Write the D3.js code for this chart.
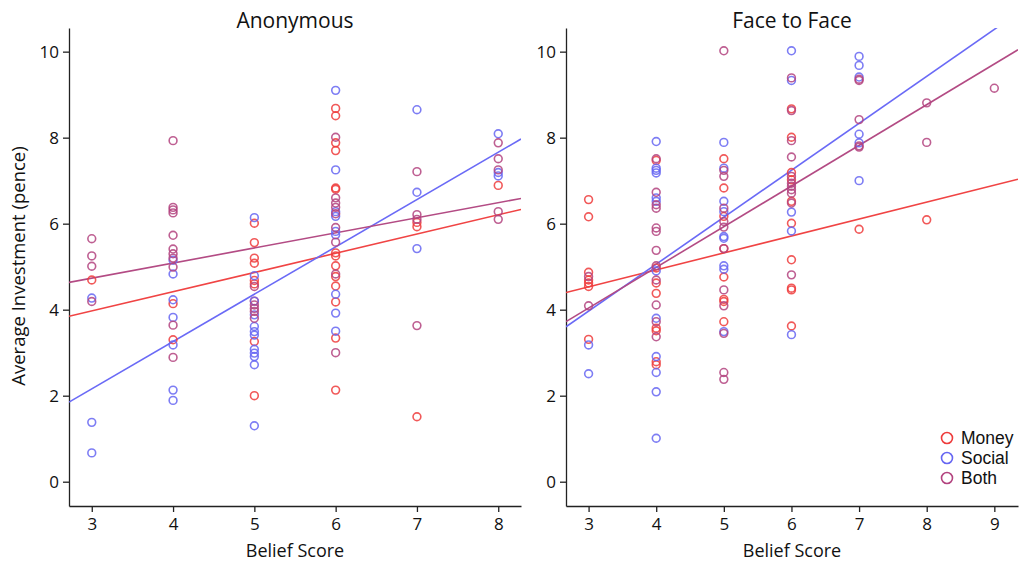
<!DOCTYPE html>
<html>
<head>
<meta charset="utf-8">
<script src="https://cdn.jsdelivr.net/npm/d3@7"></script>
<style>
  html, body { margin: 0; padding: 0; background: #fff; }
  svg text { font-family: "Open Sans", "Noto Sans", sans-serif; fill: #111; }
</style>
</head>
<body>
<svg id="chart" width="1025" height="565"></svg>
<script>
// Belief score vs. average investment, one panel per condition.
// Each series lists [belief score, average investment in pence].

const anonMoney = [
  [3,4.69],
  [4,4.14],[4,3.30],
  [5,6.01],[5,5.56],[5,5.20],[5,5.08],[5,4.68],[5,4.60],[5,4.20],[5,3.26],[5,2.00],
  [6,8.68],[6,8.51],[6,7.88],[6,7.70],[6,6.83],[6,6.80],[6,5.32],[6,5.25],[6,5.02],[6,4.77],[6,4.55],[6,4.18],[6,3.34],[6,2.13],
  [7,6.03],[7,5.93],[7,1.51],
  [8,6.89]
];
const anonSocial = [
  [3,4.27],[3,1.38],[3,0.67],
  [4,5.15],[4,4.83],[4,4.23],[4,3.82],[4,3.18],[4,2.13],[4,1.89],
  [5,6.14],[5,4.79],[5,4.20],[5,3.88],[5,3.61],[5,3.49],[5,3.41],[5,3.08],[5,2.99],[5,2.91],[5,2.72],[5,1.30],
  [6,9.10],[6,7.25],[6,6.28],[6,6.17],[6,5.82],[6,5.74],[6,4.36],[6,3.92],[6,3.50],
  [7,8.65],[7,6.73],[7,5.42],
  [8,8.09],[8,7.19],[8,7.11]
];
const anonBoth = [
  [3,5.65],[3,5.25],[3,5.01],[3,4.19],
  [4,7.93],[4,6.38],[4,6.32],[4,6.25],[4,5.73],[4,5.41],[4,5.30],[4,5.20],[4,4.99],[4,3.64],[4,2.89],
  [5,4.54],[5,4.11],[5,4.03],[5,3.96],[5,3.80],
  [6,8.01],[6,6.60],[6,6.48],[6,6.38],[6,6.23],[6,5.91],[6,5.57],[6,4.83],[6,3.00],
  [7,7.21],[7,6.21],[7,6.10],[7,3.63],
  [8,7.88],[8,7.51],[8,7.25],[8,6.28],[8,6.10]
];

const f2fMoney = [
  [3,6.56],[3,6.16],[3,4.87],[3,4.69],[3,4.62],[3,4.54],[3,3.31],
  [4,7.47],[4,4.97],[4,4.62],[4,4.38],[4,3.57],[4,3.51],[4,2.79],[4,2.72],
  [5,7.51],[5,6.83],[5,6.17],[5,5.42],[5,4.76],[5,4.24],[5,4.19],[5,3.72],
  [6,8.67],[6,8.01],[6,7.19],[6,7.02],[6,6.52],[6,6.01],[6,5.16],[6,4.50],[6,4.46],[6,3.62],
  [7,5.87],
  [8,6.09]
];
const f2fSocial = [
  [3,3.18],[3,2.51],
  [4,7.91],[4,7.29],[4,7.24],[4,7.18],[4,6.60],[4,6.52],[4,4.90],[4,3.80],[4,2.91],[4,2.54],[4,2.09],[4,1.01],
  [5,7.89],[5,7.29],[5,6.52],[5,6.28],[5,5.70],[5,5.66],[5,5.02],[5,4.94],[5,3.49],
  [6,10.02],[6,9.33],[6,6.27],[6,5.83],[6,3.42],
  [7,9.89],[7,9.68],[7,9.41],[7,8.08],[7,7.88],[7,7.00]
];
const f2fBoth = [
  [3,4.77],[3,4.09],
  [4,7.51],[4,6.73],[4,6.44],[4,6.36],[4,5.90],[4,5.82],[4,5.38],[4,5.02],[4,4.69],[4,4.11],[4,3.72],[4,3.37],
  [5,10.02],[5,7.24],[5,7.10],[5,6.36],[5,6.05],[5,5.92],[5,5.42],[5,4.46],[5,4.09],[5,3.45],[5,2.54],[5,2.38],
  [6,9.39],[6,8.63],[6,7.93],[6,7.55],[6,7.10],[6,6.94],[6,6.87],[6,6.79],[6,6.71],[6,6.48],[6,4.81],
  [7,9.36],[7,9.33],[7,8.42],[7,7.81],[7,7.78],
  [8,8.81],[8,7.89],
  [9,9.15]
];

// Fitted lines per series: [intercept, slope]
const anonFits = [[2.63, 0.447], [-1.14, 1.10], [3.68, 0.351]];
const f2fFits  = [[3.35, 0.394], [0.69, 1.092], [1.20, 0.946]];

const seriesNames = ["Money", "Social", "Both"];
const seriesColors = ["#ee3c3c", "#6666f2", "#b3437f"];
const lineColors = ["#f04444", "#6a6af6", "#b34b84"];

const anonTicksX = [3, 4, 5, 6, 7, 8];
const f2fTicksX = [3, 4, 5, 6, 7, 8, 9];
const ticksY = [0, 2, 4, 6, 8, 10];

const svg = d3.select("#chart");

const yScale = d3.scaleLinear().domain([-0.565, 10.55]).range([506, 28]);

function panel(opts) {
  const { title, x0, x1, domain, ticks, series, fits, id } = opts;
  const x = d3.scaleLinear().domain(domain).range([x0, x1]);
  const g = svg.append("g");

  g.append("clipPath").attr("id", id)
    .append("rect").attr("x", x0).attr("y", 28).attr("width", x1 - x0).attr("height", 478);

  // axes
  const xAxis = g.append("g").attr("transform", "translate(0,506)")
    .call(d3.axisBottom(x).tickValues(ticks).tickFormat(d3.format("d"))
      .tickSize(6).tickPadding(4).tickSizeOuter(0));
  const yAxis = g.append("g").attr("transform", `translate(${x0},0)`)
    .call(d3.axisLeft(yScale).tickValues(ticksY).tickFormat(d3.format("d"))
      .tickSize(6).tickPadding(4).tickSizeOuter(0));
  [xAxis, yAxis].forEach(a => {
    a.select(".domain").attr("stroke", "#222").attr("stroke-width", 1.3);
    a.selectAll(".tick line").attr("stroke", "#222").attr("stroke-width", 1.3);
    a.selectAll(".tick text").attr("font-size", 17)
      .style("font-family", '"Open Sans", sans-serif').attr("fill", "#111");
  });
  xAxis.selectAll(".tick text").attr("dy", "0.85em");

  // fitted lines
  const lg = g.append("g").attr("clip-path", `url(#${id})`);
  fits.forEach((f, i) => {
    const [a, b] = f;
    lg.append("line")
      .attr("x1", x(domain[0])).attr("y1", yScale(a + b * domain[0]))
      .attr("x2", x(domain[1])).attr("y2", yScale(a + b * domain[1]))
      .attr("stroke", lineColors[i]).attr("stroke-width", 1.6);
  });

  // points
  series.forEach((s, i) => {
    g.append("g").selectAll("circle").data(s).join("circle")
      .attr("cx", d => x(d[0])).attr("cy", d => yScale(d[1]))
      .attr("r", 3.9)
      .attr("fill", "none")
      .attr("stroke", seriesColors[i])
      .attr("stroke-opacity", 0.85)
      .attr("stroke-width", 1.6);
  });

  g.append("text").attr("x", (x0 + x1) / 2).attr("y", 28)
    .attr("text-anchor", "middle").attr("font-size", 21).text(title);
  g.append("text").attr("x", (x0 + x1) / 2).attr("y", 557)
    .attr("text-anchor", "middle").attr("font-size", 18).text("Belief Score");
  return x;
}

panel({ title: "Anonymous", x0: 69, x1: 521, domain: [2.72, 8.28], ticks: anonTicksX,
        series: [anonMoney, anonSocial, anonBoth], fits: anonFits, id: "clipA" });
panel({ title: "Face to Face", x0: 566, x1: 1018, domain: [2.666, 9.35], ticks: f2fTicksX,
        series: [f2fMoney, f2fSocial, f2fBoth], fits: f2fFits, id: "clipB" });

svg.append("text")
  .attr("transform", "translate(25,266) rotate(-90)")
  .attr("text-anchor", "middle").attr("font-size", 18.5)
  .text("Average Investment (pence)");

// legend
const legend = svg.append("g").attr("transform", "translate(947,438)");
seriesNames.forEach((name, i) => {
  const row = legend.append("g").attr("transform", `translate(0,${i * 20})`);
  row.append("circle").attr("r", 5.5).attr("fill", "none")
    .attr("stroke", seriesColors[i]).attr("stroke-width", 1.6);
  row.append("text").attr("x", 14).attr("y", 0).attr("dy", "0.36em")
    .style("font-family", '"Liberation Sans", Arial, sans-serif')
    .attr("font-size", 17.5).text(name);
});
</script>
</body>
</html>
